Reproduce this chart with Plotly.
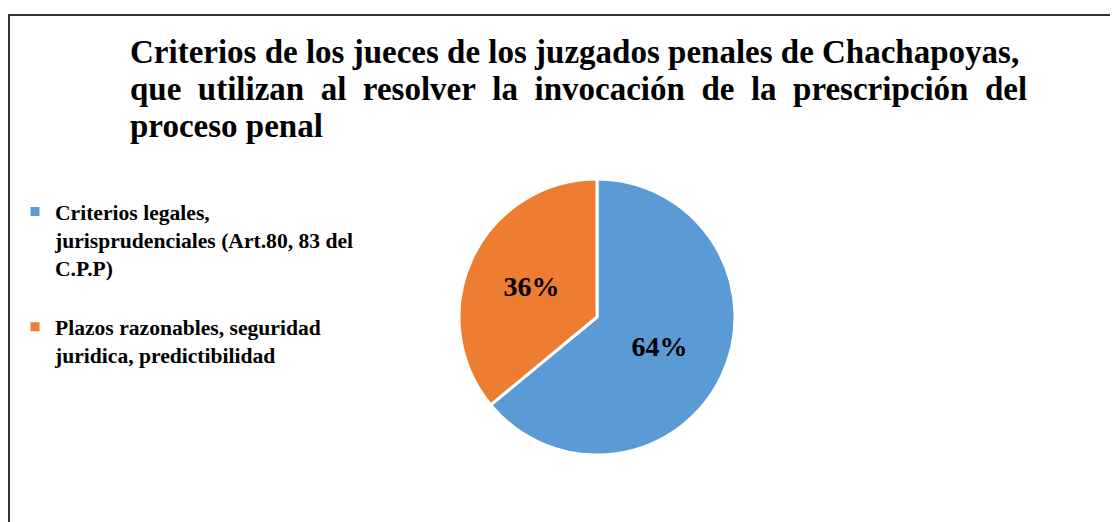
import plotly.graph_objects as go

categories = [
    "Criterios legales,<br>jurisprudenciales (Art.80, 83 del<br>C.P.P)<br> ",
    "Plazos razonables, seguridad<br>juridica, predictibilidad",
]
values = [64, 36]
colors = ["#5B9BD5", "#ED7D31"]
title_lines = [
    "Criterios de los jueces de los juzgados penales de Chachapoyas,",
    "que utilizan al resolver la invocación de la prescripción del",
    "proceso penal",
]

# the page body has an 8px margin, so the figure sits at (8, 8) on screen
OFF = 8
W, H = 1118 - OFF, 522 - OFF
cx, cy, r = 597 - OFF, 317 - OFF, 138

fig = go.Figure(go.Pie(
    labels=categories,
    values=values,
    sort=False,
    direction="clockwise",
    rotation=0,
    marker=dict(colors=colors, line=dict(color="white", width=3)),
    texttemplate="%{value}%",
    textposition="inside",
    insidetextorientation="horizontal",
    textfont=dict(family="Liberation Serif", size=28, color="black", weight="bold"),
    hoverinfo="label+percent",
    domain=dict(x=[(cx - r) / W, (cx + r) / W], y=[(H - cy - r) / H, (H - cy + r) / H]),
))

# title lines (justified look: widen the gaps of the second line)
title_font = dict(family="Liberation Serif", size=33, color="black", weight="bold")
line_texts = [
    title_lines[0],
    title_lines[1].replace(" ", "\u00a0 "),
    title_lines[2],
]
baselines = [63, 100, 137]
annotations = []
for txt, base in zip(line_texts, baselines):
    annotations.append(dict(
        text=txt, xref="paper", yref="paper",
        x=(128 - OFF) / W, xanchor="left",
        y=1 - (base - OFF - 11) / H, yanchor="middle",
        showarrow=False, font=title_font,
    ))

fig.update_layout(
    width=W, height=H,
    margin=dict(l=0, r=0, t=0, b=0),
    paper_bgcolor="white",
    font=dict(family="Liberation Serif", color="black"),
    annotations=annotations,
    legend=dict(
        x=(15 - OFF) / W, xanchor="left",
        y=1 - 183 / H, yanchor="top",
        font=dict(family="Liberation Serif", size=21.6, color="black", weight="bold"),
        valign="top",
        bgcolor="rgba(0,0,0,0)",
    ),
    shapes=[dict(
        type="rect", xref="paper", yref="paper",
        x0=1 / W, x1=1.2, y0=-0.2, y1=1 - 7 / H,
        line=dict(color="#333333", width=2),
    )],
)

fig.write_html("out.html")
